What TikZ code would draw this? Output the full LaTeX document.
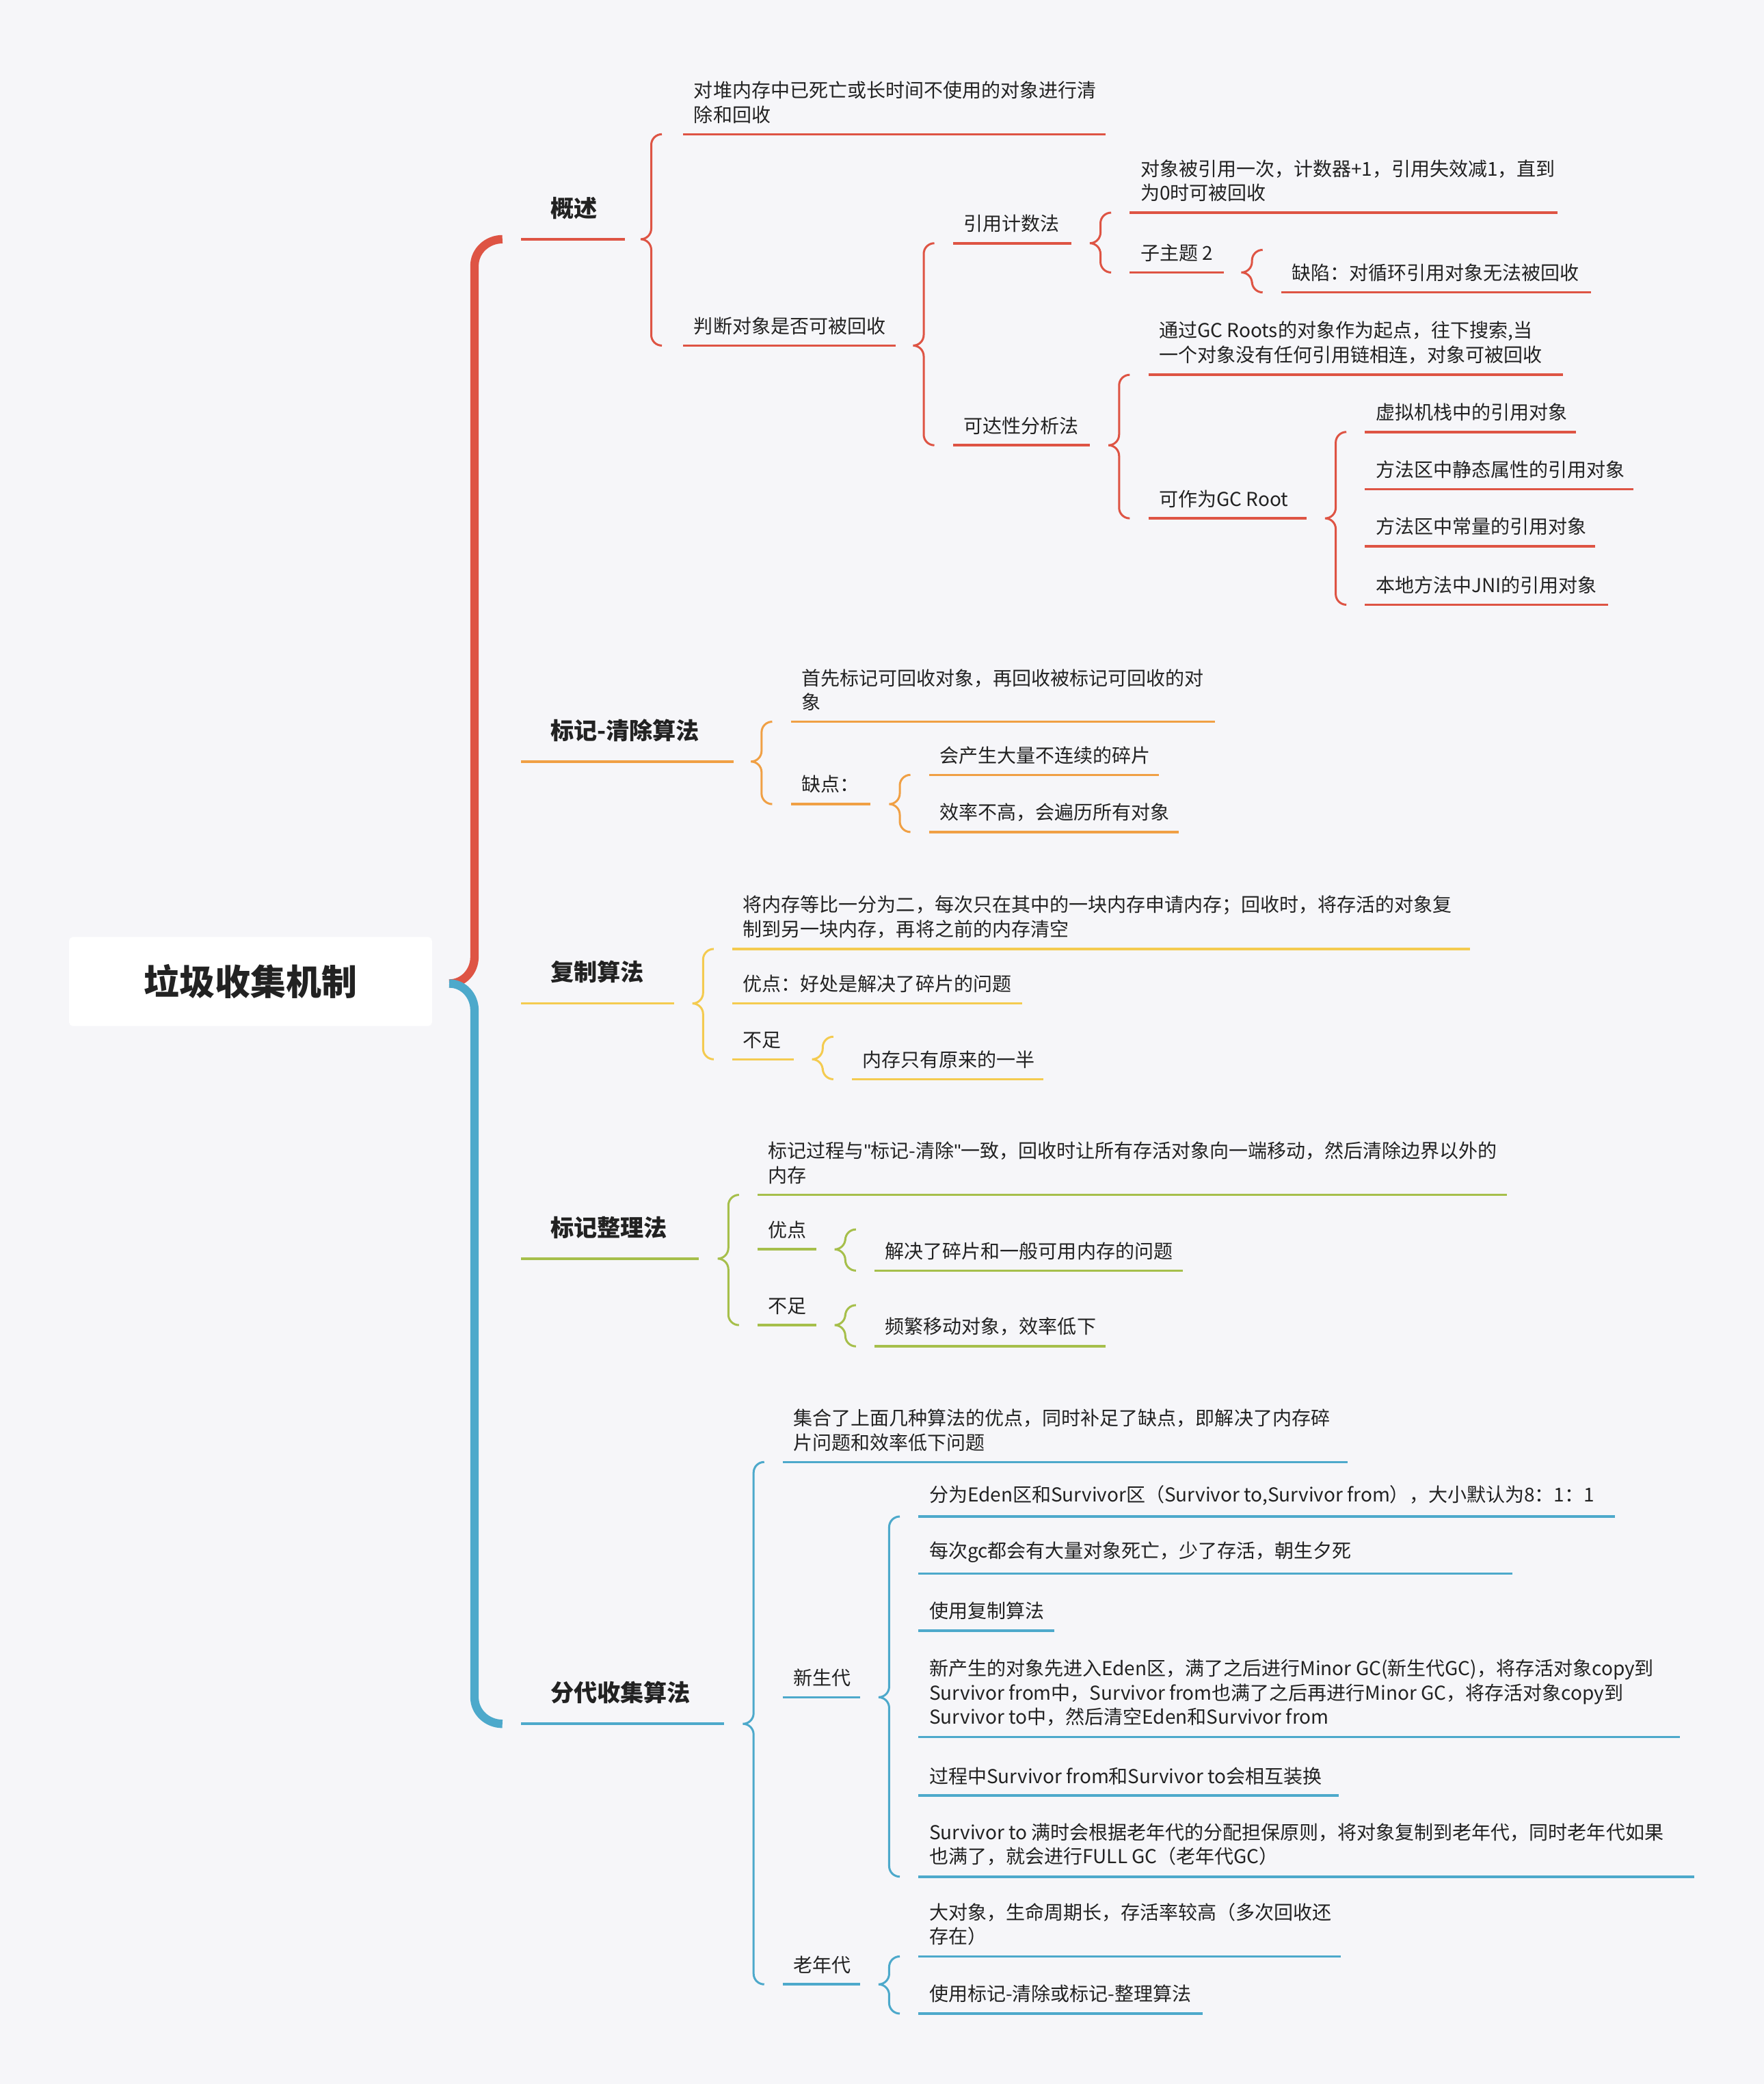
\documentclass[tikz,border=0pt]{standalone}
\usepackage{fontspec}
\setmainfont{Noto Sans CJK SC}
\newfontfamily\qfont{Liberation Sans}
\newcommand\sq{{\qfont\symbol{34}}}
\definecolor{bg}{HTML}{F6F6F9}
\definecolor{cr}{HTML}{DE5444}
\definecolor{co}{HTML}{F0A045}
\definecolor{cy}{HTML}{F4CB50}
\definecolor{cg}{HTML}{A6BF4B}
\definecolor{cb}{HTML}{4DA9CB}
\definecolor{tx}{HTML}{222222}
\newcommand\itm[7]{% name,x1,x2,liney,color,text,font
  \draw[color=#5,line width=2.6pt] (#2,#4) -- (#3,#4);
  \node[anchor=south west,inner sep=0pt,align=left,text=tx,font=#7] (#1) at ({#2+8},{#4-8}) {#6};}
\newcommand\itmb[6]{% level-1 item
  \draw[color=#5,line width=2.6pt] (#2,#4) -- (#3,#4);
  \node[anchor=south west,inner sep=0pt,align=left,text=tx,font=\fontsize{25}{30}\selectfont\bfseries] (#1) at ({#2+22},{#4-15}) {#6};}
\newcommand\brc[5]{%
  \draw[color=#5,line width=2.2pt] ({#1+8},#2) to[out=180,in=90] (#1,{#2+8}) -- (#1,{#3-8}) to[out=-90,in=0] ({#1-8},#3) to[out=0,in=90] (#1,{#3+8}) -- (#1,{#4-8}) to[out=-90,in=180] ({#1+8},#4);}
\begin{document}
\begin{tikzpicture}[x=0.05cm,y=-0.05cm]
\def\nf{\fontsize{20.5}{26}\selectfont}
\fill[bg] (0,0) rectangle (1327,1568);
\useasboundingbox (0,0) rectangle (1327,1568);
% main braces
\draw[cr,line width=9pt] (378,180) to[out=180,in=90] (357,200) -- (357,720) to[out=-90,in=0] (338,740);
\draw[cb,line width=9pt] (338,740) to[out=0,in=90] (357,760) -- (357,1277) to[out=-90,in=180] (378,1297);
\node[fill=white,rounded corners=4pt,minimum width=273*0.05cm,minimum height=67*0.05cm,font=\fontsize{38}{44}\selectfont\bfseries,text=tx] (root) at (188.5,738.5) {垃圾收集机制};
% level 1
\itmb{gs}{392}{470}{180}{cr}{概述}
\itmb{bq}{392}{552}{573}{co}{标记-清除算法}
\itmb{fz}{392}{507}{755}{cy}{复制算法}
\itmb{zl}{392}{526}{947}{cg}{标记整理法}
\itmb{fd}{392}{545}{1297}{cb}{分代收集算法}
% 概述
\brc{490}{101}{180}{260}{cr}
\itm{a1}{514}{832}{101}{cr}{对堆内存中已死亡或长时间不使用的对象进行清\\除和回收}{\nf}
\itm{a2}{514}{674}{260}{cr}{判断对象是否可被回收}{\nf}
\brc{695}{183}{260}{335}{cr}
\itm{b1}{717}{806}{183}{cr}{引用计数法}{\nf}
\brc{828}{160}{183}{205}{cr}
\itm{c1}{850}{1172}{160}{cr}{对象被引用一次，计数器+1，引用失效减1，直到\\为0时可被回收}{\nf}
\itm{c2}{850}{921}{205}{cr}{子主题 2}{\nf}
\brc{942}{188}{205}{220}{cr}
\itm{d1}{964}{1197}{220}{cr}{缺陷：对循环引用对象无法被回收}{\nf}
\itm{b2}{717}{820}{335}{cr}{可达性分析法}{\nf}
\brc{842}{282}{335}{390}{cr}
\itm{c3}{864}{1176}{282}{cr}{通过GC Roots的对象作为起点，往下搜索,当\\一个对象没有任何引用链相连，对象可被回收}{\nf}
\itm{c4}{864}{983}{390}{cr}{可作为GC Root}{\nf}
\brc{1005}{325}{390}{455}{cr}
\itm{e1}{1027}{1186}{325}{cr}{虚拟机栈中的引用对象}{\nf}
\itm{e2}{1027}{1229}{368}{cr}{方法区中静态属性的引用对象}{\nf}
\itm{e3}{1027}{1200}{411}{cr}{方法区中常量的引用对象}{\nf}
\itm{e4}{1027}{1210}{455}{cr}{本地方法中JNI的引用对象}{\nf}
% 标记-清除
\brc{573}{543}{573}{605}{co}
\itm{f1}{595}{914}{543}{co}{首先标记可回收对象，再回收被标记可回收的对\\象}{\nf}
\itm{f2}{595}{655}{605}{co}{缺点：}{\nf}
\brc{677}{583}{605}{626}{co}
\itm{g1}{699}{872}{583}{co}{会产生大量不连续的碎片}{\nf}
\itm{g2}{699}{887}{626}{co}{效率不高，会遍历所有对象}{\nf}
% 复制
\brc{529}{714}{755}{797}{cy}
\itm{h1}{551}{1106}{714}{cy}{将内存等比一分为二，每次只在其中的一块内存申请内存；回收时，将存活的对象复\\制到另一块内存，再将之前的内存清空}{\nf}
\itm{h2}{551}{769}{755}{cy}{优点：好处是解决了碎片的问题}{\nf}
\itm{h3}{551}{597}{797}{cy}{不足}{\nf}
\brc{619}{780}{797}{812}{cy}
\itm{h4}{641}{785}{812}{cy}{内存只有原来的一半}{\nf}
% 整理
\brc{548}{899}{947}{997}{cg}
\itm{i1}{570}{1134}{899}{cg}{标记过程与\sq 标记-清除\sq 一致，回收时让所有存活对象向一端移动，然后清除边界以外的\\内存}{\nf}
\itm{i2}{570}{614}{940}{cg}{优点}{\nf}
\brc{636}{925}{940}{956}{cg}
\itm{i3}{658}{890}{956}{cg}{解决了碎片和一般可用内存的问题}{\nf}
\itm{i4}{570}{614}{997}{cg}{不足}{\nf}
\brc{636}{982}{997}{1013}{cg}
\itm{i5}{658}{832}{1013}{cg}{频繁移动对象，效率低下}{\nf}
% 分代
\brc{567}{1100}{1297}{1493}{cb}
\itm{j1}{589}{1014}{1100}{cb}{集合了上面几种算法的优点，同时补足了缺点，即解决了内存碎\\片问题和效率低下问题}{\nf}
\itm{j2}{589}{647}{1277}{cb}{新生代}{\nf}
\brc{669}{1141}{1277}{1412}{cb}
\itm{k1}{691}{1215}{1141}{cb}{分为Eden区和Survivor区（Survivor to,Survivor from），大小默认为8：1：1}{\nf}
\itm{k2}{691}{1138}{1184}{cb}{每次gc都会有大量对象死亡，少了存活，朝生夕死}{\nf}
\itm{k3}{691}{793}{1227}{cb}{使用复制算法}{\nf}
\itm{k4}{691}{1264}{1307}{cb}{新产生的对象先进入Eden区，满了之后进行Minor GC(新生代GC)，将存活对象copy到\\Survivor from中，Survivor from也满了之后再进行Minor GC，将存活对象copy到\\Survivor to中，然后清空Eden和Survivor from}{\nf}
\itm{k5}{691}{1007}{1351}{cb}{过程中Survivor from和Survivor to会相互装换}{\nf}
\itm{k6}{691}{1275}{1412}{cb}{Survivor to 满时会根据老年代的分配担保原则，将对象复制到老年代，同时老年代如果\\也满了，就会进行FULL GC（老年代GC）}{\nf}
\itm{j3}{589}{647}{1493}{cb}{老年代}{\nf}
\brc{669}{1472}{1493}{1515}{cb}
\itm{l1}{691}{1009}{1472}{cb}{大对象，生命周期长，存活率较高（多次回收还\\存在）}{\nf}
\itm{l2}{691}{905}{1515}{cb}{使用标记-清除或标记-整理算法}{\nf}
\end{tikzpicture}
\end{document}
